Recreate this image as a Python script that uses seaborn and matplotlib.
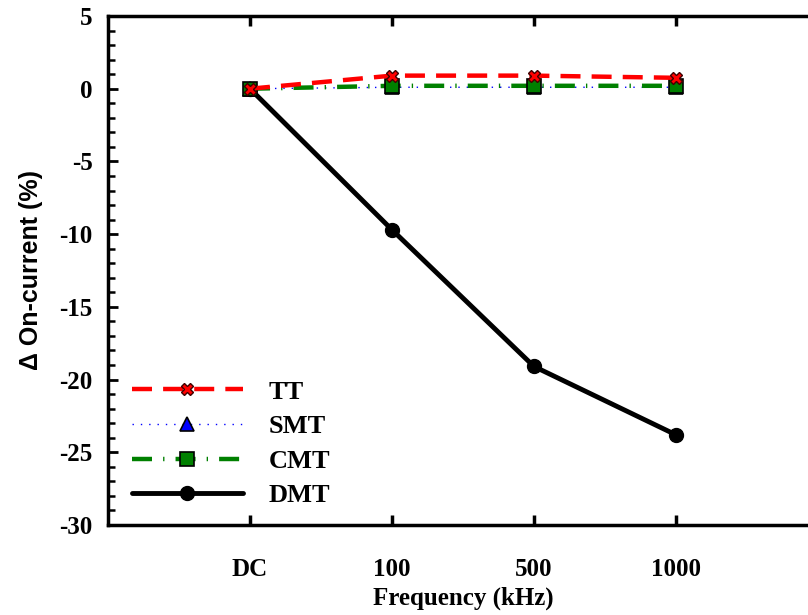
import numpy as np
import pandas as pd
import matplotlib
matplotlib.use("Agg")
import matplotlib.pyplot as plt
from matplotlib.ticker import MultipleLocator
from matplotlib.lines import Line2D
import seaborn as sns

# Measured on-current shift versus stress frequency
frequencies = ["DC", "100", "500", "1000"]
tt_values = [0.0, 0.9, 0.9, 0.75]
smt_values = [0.0, 0.1, 0.1, 0.1]
cmt_values = [0.0, 0.2, 0.2, 0.2]
dmt_values = [0.0, -9.7, -19.1, -23.8]

series_names = ["TT", "SMT", "CMT", "DMT"]
series_values = [tt_values, smt_values, cmt_values, dmt_values]

rows = []
for name, vals in zip(series_names, series_values):
    for i, (f, v) in enumerate(zip(frequencies, vals)):
        rows.append({"series": name, "pos": i, "freq": f, "delta": v})
df = pd.DataFrame(rows)

sns.set_theme(style="white")
plt.rcParams["font.family"] = ["Liberation Serif", "DejaVu Serif"]
plt.rcParams["font.weight"] = "bold"
plt.rcParams["text.color"] = "black"
plt.rcParams["axes.labelcolor"] = "black"
plt.rcParams["xtick.color"] = "black"
plt.rcParams["ytick.color"] = "black"
plt.rcParams["axes.unicode_minus"] = False

fig = plt.figure(figsize=(8.08, 6.15), dpi=100)
ax = fig.add_axes([108 / 808, 1 - 525 / 615, 710 / 808, 509 / 615])

styles = {
    "TT": dict(color="#ff0000", lw=3.2, dashes=(4.5, 2.5), marker="X", ms=9,
               mfc="#ff0000", mec="#400000", mew=1.0),
    "SMT": dict(color="#0000ff", lw=1.0, dashes=(1, 5), marker="^", ms=10,
                mfc="#0000ff", mec="black", mew=1.2),
    "CMT": dict(color="#008000", lw=3.2, dashes=(4.5, 2.5, 0.3, 2.5), marker="s", ms=10,
                mfc="#008000", mec="black", mew=1.2),
    "DMT": dict(color="black", lw=3.5, dashes=(None, None), marker="o", ms=10,
                mfc="black", mec="black", mew=1.0),
}

for name in ["DMT", "SMT", "CMT", "TT"]:
    st = styles[name]
    sub = df[df["series"] == name]
    sns.lineplot(data=sub, x="pos", y="delta", ax=ax, color=st["color"],
                 linewidth=st["lw"], marker=st["marker"], markersize=st["ms"],
                 markerfacecolor=st["mfc"], markeredgecolor=st["mec"],
                 markeredgewidth=st["mew"], legend=False, sort=False, zorder=3)
    line = ax.lines[-1]
    if st["dashes"][0] is not None:
        line.set_dashes(st["dashes"])

handles = []
for name in series_names:
    st = styles[name]
    h = Line2D([], [], color=st["color"], lw=st["lw"], marker=st["marker"],
               ms=st["ms"], mfc=st["mfc"], mec=st["mec"], mew=st["mew"])
    if st["dashes"][0] is not None:
        h.set_dashes(st["dashes"])
    handles.append(h)

ax.set_xlim(-1, 4)
ax.set_ylim(-30, 5)
ax.set_xticks(range(len(frequencies)))
ax.set_xticklabels(frequencies)
ax.yaxis.set_major_locator(MultipleLocator(5))
ax.yaxis.set_minor_locator(MultipleLocator(1))

for side in ["left", "bottom", "top"]:
    ax.spines[side].set_visible(True)
    ax.spines[side].set_color("black")
    ax.spines[side].set_linewidth(2.5)
ax.spines["right"].set_visible(False)

ax.tick_params(axis="x", which="major", direction="in", length=7, width=2.5,
               top=True, bottom=True, labelsize=18, pad=24)
ax.tick_params(axis="y", which="major", direction="in", length=7, width=2.0,
               left=True, right=False, labelsize=18, pad=11)
ax.tick_params(axis="y", which="minor", direction="in", length=5, width=1.8,
               left=True, right=False)
for lab in ax.get_xticklabels() + ax.get_yticklabels():
    lab.set_fontweight("bold")

ax.set_xlabel("Frequency (kHz)", fontsize=18, fontweight="bold", labelpad=4)
ax.set_ylabel("Δ On-current (%)", fontsize=18, fontweight="bold",
              family=["Liberation Sans", "DejaVu Sans"], labelpad=12)

leg = ax.legend(handles, series_names, loc="lower left",
                bbox_to_anchor=(0.0, -0.012), frameon=False, handlelength=4.2,
                handletextpad=1.0, labelspacing=0.42,
                prop={"family": "Liberation Serif", "weight": "bold", "size": 19})

fig.savefig("out.png", dpi=100)
